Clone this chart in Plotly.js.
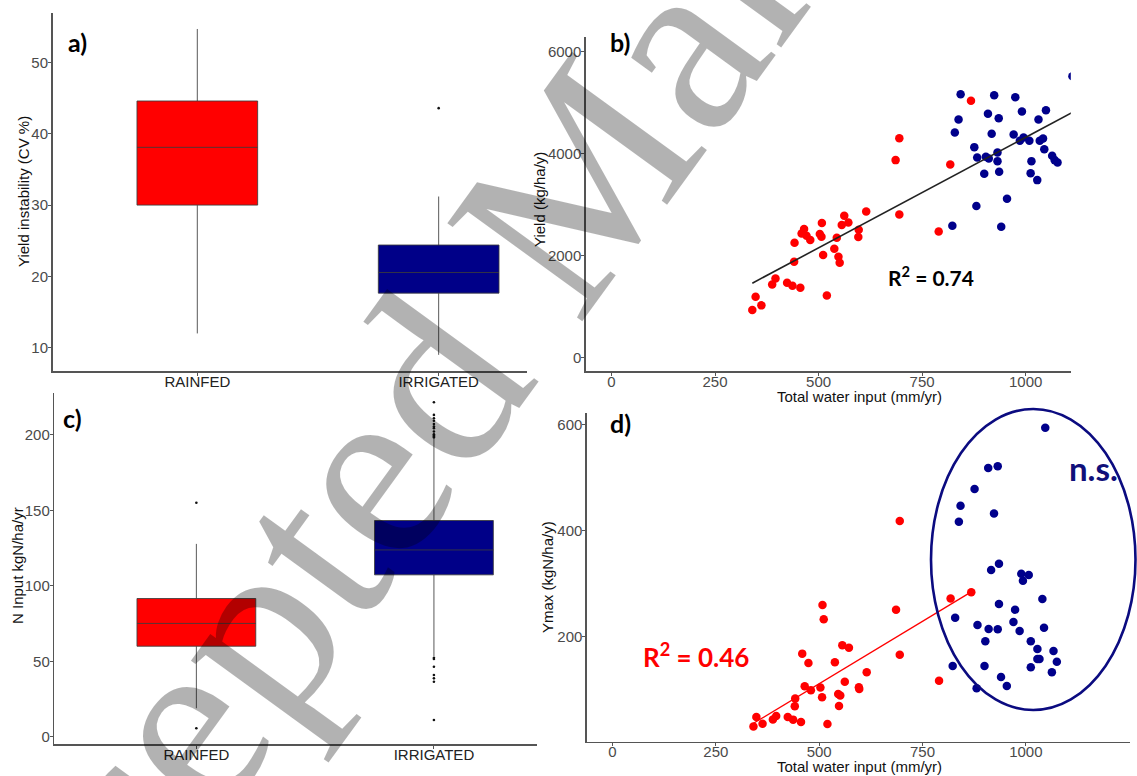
<!DOCTYPE html>
<html>
<head>
<meta charset="utf-8">
<script src="https://cdn.plot.ly/plotly-3.0.1.min.js"></script>
<style>html,body{margin:0;padding:0;background:#fff;}#chart{width:1137px;height:776px;}</style>
</head>
<body>
<div id="chart"></div>
<script>
// ---------- DATA ----------
const boxCategories = ['RAINFED', 'IRRIGATED'];

// a) Yield instability (CV %)
const cvQ1 = [30.0, 17.65];
const cvMedian = [38.1, 20.55];
const cvQ3 = [44.6, 24.4];
const cvLowerWhisker = [12.0, 9.0];
const cvUpperWhisker = [54.7, 31.2];
const cvOutliersRainfed = [];
const cvOutliersIrrigated = [43.6];

// c) N input (kgN/ha/yr)
const nQ1 = [60.0, 107.3];
const nMedian = [75.1, 123.8];
const nQ3 = [91.6, 143.3];
const nLowerWhisker = [18.9, 53.5];
const nUpperWhisker = [127.8, 197.5];
const nOutliersRainfed = [155.1, 5.6];
const nOutliersIrrigated = [221.7, 213.3, 211.1, 209.4, 207.2, 205.6, 204.5, 202.3, 200.5, 199.6, 199.0, 198.3,
                            52.4, 51.5, 46.4, 40.9, 38.7, 36.5, 11.1];

// b) Yield vs total water input
const waterRainfedB = [340,348,362,388,396,424,437,456,441,442,459,465,471,480,503,507,508,511,520,538,544,548,551,556,562,572,596,597,615,695,686,695,790,818,868];
const yieldRainfed  = [929,1191,1021,1433,1551,1466,1407,1367,1878,2251,2434,2519,2388,2303,2421,2369,2637,2009,1217,2133,2349,1976,1858,2598,2781,2650,2362,2506,2866,2807,3874,4305,2473,3789,5038];
const waterIrrigatedB = [823,829,838,843,876,881,883,900,904,909,911,918,924,932,932,935,936,941,955,971,975,986,991,995,1009,1012,1014,1028,1031,1034,1042,1045,1049,1064,1070,1077,1113];
const yieldIrrigated  = [2585,4417,4672,5169,4129,2971,3926,3605,3939,4783,3906,4390,5150,4024,3854,4698,3645,2565,3115,4377,5110,4253,4829,4318,4253,3618,3854,3481,4672,4253,4299,4089,4855,3959,3874,3828,5522];

// d) Ymax vs total water input
const waterRainfedD = [341,348,363,388,396,424,437,456,441,442,459,465,474,480,503,507,508,511,520,538,546,548,551,556,562,572,596,597,615,695,686,695,790,818,868];
const ymaxRainfed   = [30.5,48.7,36,44,50.5,48.7,43.6,39,68.8,83.2,168,106.4,150.4,98.9,104,85.7,259.6,232.6,35.5,151.6,92,69.4,88.9,183.7,115.2,179.3,104.6,101.4,132.8,166,250.9,417.9,117,272,283.5];
const waterIrrigatedD = [823,829,838,842,876,881,883,900,902,909,910,916,923,932,932,935,935,940,954,970,974,985,989,993,1007,1012,1012,1028,1028,1033,1040,1044,1047,1063,1067,1075];
const ymaxIrrigated   = [144.7,235.8,416.6,446.8,478.2,102.7,222,144.7,191.2,517.7,214.4,325.6,432.3,521.4,213.8,337.5,261.5,124,107.1,227.6,250.9,210.7,318.7,305.5,316.2,191.2,142.3,176.8,157.9,157.9,271,217,593.7,132.8,172.9,152.8];

const waterTicks = [0, 250, 500, 750, 1000];
const panelLabels = ['a)', 'b)', 'c)', 'd)'];
const axisTitles = ['Yield instability (CV %)', 'Yield (kg/ha/y)', 'N Input kgN/ha/yr', 'Ymax (kgN/ha/y)', 'Total water input (mm/yr)'];
const r2B = '0.74', r2D = '0.46';

// ---------- HELPERS ----------
const RED = '#FF0000', NAVY = '#00008B';
function fit(xs, ys) {
  const n = xs.length;
  const mx = xs.reduce((a, b) => a + b, 0) / n, my = ys.reduce((a, b) => a + b, 0) / n;
  let sxy = 0, sxx = 0;
  for (let i = 0; i < n; i++) { sxy += (xs[i] - mx) * (ys[i] - my); sxx += (xs[i] - mx) ** 2; }
  const slope = sxy / sxx, icpt = my - slope * mx;
  const x0 = Math.min(...xs), x1 = Math.max(...xs);
  return {x: [x0, x1], y: [icpt + slope * x0, icpt + slope * x1]};
}
function boxTrace(i, q1, med, q3, lo, hi, color, xa, ya) {
  return {type: 'box', x: [boxCategories[i]], q1: [q1[i]], median: [med[i]], q3: [q3[i]],
    lowerfence: [lo[i]], upperfence: [hi[i]], fillcolor: color, width: 0.5, whiskerwidth: 0,
    line: {color: 'rgba(60,60,60,0.85)', width: 1}, boxpoints: false, xaxis: xa, yaxis: ya, hoverinfo: 'skip'};
}
function outlierTrace(cat, vals, xa, ya) {
  return {type: 'scatter', mode: 'markers', x: vals.map(() => cat), y: vals,
    marker: {color: '#111', size: 2.6}, xaxis: xa, yaxis: ya, hoverinfo: 'skip'};
}
function pts(xs, ys, color, xa, ya) {
  return {type: 'scatter', mode: 'markers', x: xs, y: ys, marker: {color: color, size: 8.5},
    xaxis: xa, yaxis: ya, hoverinfo: 'skip'};
}

const fitB = fit(waterRainfedB.concat(waterIrrigatedB), yieldRainfed.concat(yieldIrrigated));
const fitD = fit(waterRainfedD, ymaxRainfed);

const traces = [
  boxTrace(0, cvQ1, cvMedian, cvQ3, cvLowerWhisker, cvUpperWhisker, RED, 'x', 'y'),
  boxTrace(1, cvQ1, cvMedian, cvQ3, cvLowerWhisker, cvUpperWhisker, '#000088', 'x', 'y'),
  outlierTrace('RAINFED', cvOutliersRainfed, 'x', 'y'),
  outlierTrace('IRRIGATED', cvOutliersIrrigated, 'x', 'y'),
  pts(waterRainfedB, yieldRainfed, RED, 'x2', 'y2'),
  pts(waterIrrigatedB, yieldIrrigated, NAVY, 'x2', 'y2'),
  {type: 'scatter', mode: 'lines', x: fitB.x, y: fitB.y, line: {color: '#222', width: 1.6}, xaxis: 'x2', yaxis: 'y2', hoverinfo: 'skip'},
  boxTrace(0, nQ1, nMedian, nQ3, nLowerWhisker, nUpperWhisker, RED, 'x3', 'y3'),
  boxTrace(1, nQ1, nMedian, nQ3, nLowerWhisker, nUpperWhisker, '#000088', 'x3', 'y3'),
  outlierTrace('RAINFED', nOutliersRainfed, 'x3', 'y3'),
  outlierTrace('IRRIGATED', nOutliersIrrigated, 'x3', 'y3'),
  pts(waterRainfedD, ymaxRainfed, RED, 'x4', 'y4'),
  pts(waterIrrigatedD, ymaxIrrigated, NAVY, 'x4', 'y4'),
  {type: 'scatter', mode: 'lines', x: fitD.x, y: fitD.y, line: {color: RED, width: 1.3}, xaxis: 'x4', yaxis: 'y4', hoverinfo: 'skip'}
];

const W = 1137, H = 776;
const px = v => v / W, py = v => 1 - v / H;
const SANS = 'Liberation Sans, Arial, sans-serif';
const axisCommon = {showline: true, linecolor: '#555', linewidth: 1.5, ticks: 'outside', ticklen: 3,
  tickcolor: '#555', tickwidth: 1, showgrid: false, zeroline: false, mirror: false,
  tickfont: {family: SANS, size: 15, color: '#4a4a4a'}};
function ax(extra) { return Object.assign({}, axisCommon, extra); }
const xTickExtra = {ticklabelstandoff: -7};
const yTickExtra = {ticklabelstandoff: -3};

function note(text, x, y, font, extra) {
  return Object.assign({text: text, xref: 'paper', yref: 'paper', x: px(x), y: py(y), showarrow: false,
    xanchor: 'center', yanchor: 'middle', font: font}, extra || {});
}
const titleFont = {family: SANS, size: 15, color: '#111'};
const labelFont = {family: 'Lato, sans-serif', size: 25, color: '#000', weight: 'bold'};
const catFont = {family: SANS, size: 15, color: '#222'};

const layout = {
  width: W, height: H, margin: {l: 0, r: 0, t: 0, b: 0},
  paper_bgcolor: '#fff', plot_bgcolor: '#fff', showlegend: false,
  font: {family: SANS},
  xaxis:  ax(Object.assign({domain: [px(52.5), px(527)], type: 'category', categoryarray: boxCategories, range: [-0.6, 1.366], anchor: 'y', tickfont: catFont}, xTickExtra)),
  yaxis:  ax(Object.assign({domain: [py(371), py(13.3)], range: [6.73, 56.9], tickvals: [10, 20, 30, 40, 50], anchor: 'x'}, yTickExtra)),
  xaxis2: ax(Object.assign({domain: [px(585.8), px(1070.8)], range: [-62, 1109], tickvals: waterTicks, anchor: 'y2'}, xTickExtra)),
  yaxis2: ax(Object.assign({domain: [py(371), py(36.7)], range: [-268, 6298], tickvals: [0, 2000, 4000, 6000], anchor: 'x2'}, yTickExtra)),
  xaxis3: ax(Object.assign({domain: [px(54.3), px(536.8)], type: 'category', categoryarray: boxCategories, range: [-0.598, 1.433], anchor: 'y3', tickfont: catFont}, xTickExtra)),
  yaxis3: ax(Object.assign({domain: [py(744.3), py(393.3)], range: [-5, 227.6], tickvals: [0, 50, 100, 150, 200], anchor: 'x3'}, yTickExtra)),
  xaxis4: ax(Object.assign({domain: [px(586.9), px(1130.4)], range: [-62, 1253], tickvals: waterTicks, anchor: 'y4'}, xTickExtra)),
  yaxis4: ax(Object.assign({domain: [py(741.7), py(413.3)], range: [2, 621], tickvals: [200, 400, 600], anchor: 'x4'}, yTickExtra)),
  shapes: [
    {type: 'circle', xref: 'paper', yref: 'paper', x0: px(931), x1: px(1135.5), y0: py(710), y1: py(409),
     line: {color: '#0B0B80', width: 2.6}, fillcolor: 'rgba(0,0,0,0)'}
  ],
  annotations: [
    note(panelLabels[0], 77, 42, labelFont),
    note(panelLabels[1], 620, 42, labelFont),
    note(panelLabels[2], 72, 418, labelFont),
    note(panelLabels[3], 620, 423, labelFont),
    note(axisTitles[0], 23, 192, titleFont, {textangle: -90}),
    note(axisTitles[1], 540, 200, titleFont, {textangle: -90}),
    note(axisTitles[2], 17, 566, titleFont, {textangle: -90}),
    note(axisTitles[3], 547, 577, titleFont, {textangle: -90}),
    note(axisTitles[4], 859, 397, titleFont),
    note(axisTitles[4], 859, 766, titleFont),
    note('R<sup>2</sup> = ' + r2B, 931, 276, {family: 'Lato, sans-serif', size: 21, color: '#000', weight: 'bold'}),
    note('R<sup>2</sup> = ' + r2D, 696, 655, {family: 'Lato, sans-serif', size: 26, color: '#FF0000', weight: 'bold'}),
    note('n.s.', 1093, 468, {family: 'Lato, sans-serif', size: 33, color: '#10107A', weight: 'bold'}),
    note('Accepted Manuscript', 548, 222, {family: 'Liberation Serif, Times New Roman, serif', size: 255, color: 'rgba(0,0,0,0.3)'},
         {textangle: -54})
  ]
};

Plotly.newPlot('chart', traces, layout, {staticPlot: true, displayModeBar: false});
</script>
</body>
</html>
